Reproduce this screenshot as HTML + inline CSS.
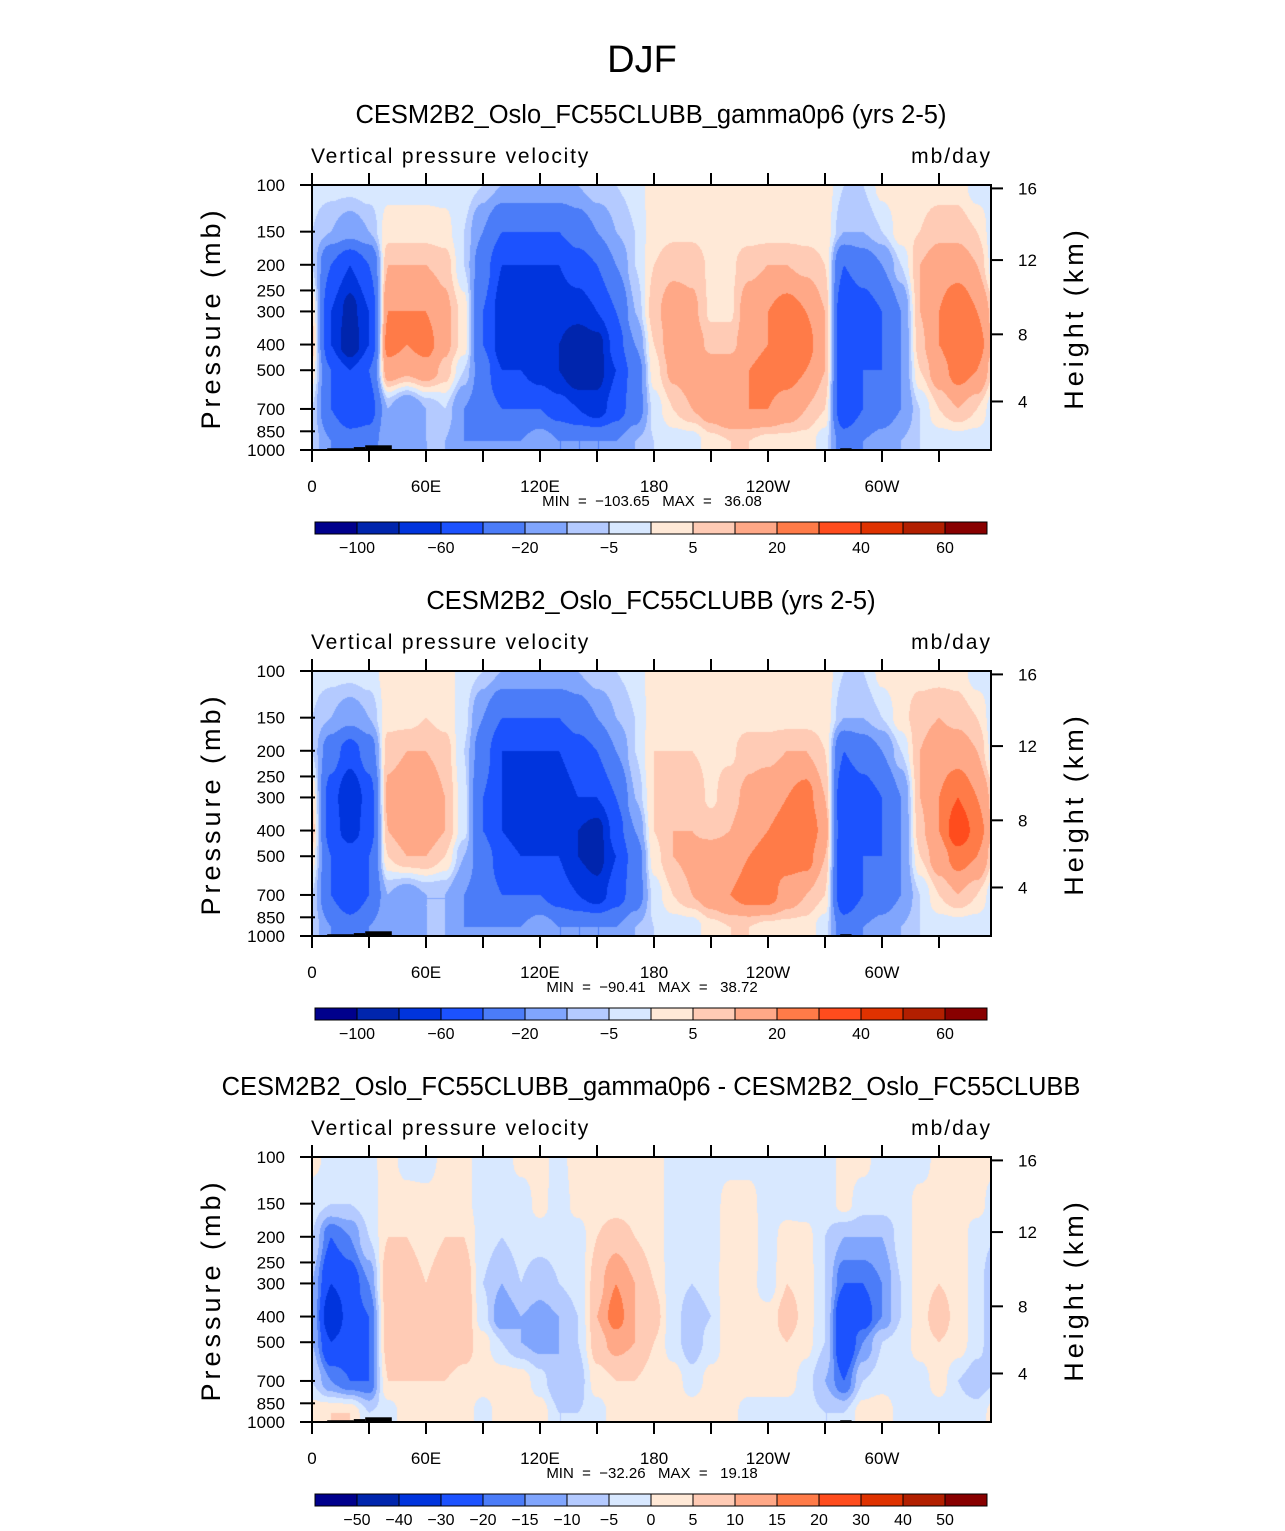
<!DOCTYPE html>
<html><head><meta charset="utf-8">
<style>
html,body{margin:0;padding:0;background:#fff;}
#wrap{position:relative;width:1285px;height:1531px;overflow:hidden;}
canvas{position:absolute;}
svg{position:absolute;left:0;top:0;}
text{font-family:"Liberation Sans",sans-serif;}
</style></head>
<body>
<div id="wrap">
<canvas id="c0"></canvas>
<canvas id="c1"></canvas>
<canvas id="c2"></canvas>
<svg id="svg" width="1285" height="1531"></svg>
</div>
<script>
// ---- data ----
const levelsP = [100,150,200,300,400,500,700,925];
const lons = [0,10,20,30,40,50,60,70,80,90,100,110,120,130,140,150,160,170,180,190,200,210,220,230,240,250,260,270,280,290,300,310,320,330,340,350];
const bounds1 = [-100,-80,-60,-40,-20,-10,-5,0,5,10,20,30,40,50,60];
const bounds3 = [-50,-40,-30,-20,-15,-10,-5,0,5,10,15,20,30,40,50];
const labels1 = ["\u2212100","\u221260","\u221220","\u22125","5","20","40","60"];
const labels3 = ["\u221250","\u221240","\u221230","\u221220","\u221215","\u221210","\u22125","0","5","10","15","20","30","40","50"];
const titles = ["CESM2B2_Oslo_FC55CLUBB_gamma0p6 (yrs 2-5)","CESM2B2_Oslo_FC55CLUBB (yrs 2-5)","CESM2B2_Oslo_FC55CLUBB_gamma0p6 - CESM2B2_Oslo_FC55CLUBB"];
const minmax = [["\u2212103.65","36.08"],["\u221290.41","38.72"],["\u221232.26","19.18"]];
const xTickLabels = ["0","60E","120E","180","120W","60W"];
const xTickLons = [0,60,120,180,240,300];
const pTicks = [100,150,200,250,300,400,500,700,850,1000];
const zTicks = [16,12,8,4];
const zTickP = [103,192,366,656];
const colors = ["#00008c","#0025ad","#0034dd","#1c52fe","#4b7cf8","#80a5fd","#b4caff","#d8e8ff","#ffe9d7","#ffcbb5","#ffa887","#ff7b48","#ff4c1d","#df3200","#b21f00","#880000"];
// topography (lon start, lon end, surface pressure)
const topo = [[8,22,985],[22,28,975],[28,42,960],[100,110,993],[112,200,995],[278,284,985],[284,310,994]];

const field1 = [
[-3,-5,-5,5,8,3,-5,-5],[-3,-10,-40,-60,-60,-40,-40,-20],[-3,-15,-60,-90,-100,-60,-60,-30],[-2,-10,-40,-60,-60,-40,-50,-30],
[-2,3,10,20,25,15,-10,-10],[-2,3,10,20,20,12,-20,-20],[-2,3,10,20,25,15,-10,-10],[-2,2,8,12,12,8,-5,-10],
[-2,-5,-5,3,3,-5,-20,-20],[-5,-20,-30,-40,-40,-30,-30,-20],[-10,-40,-60,-70,-70,-60,-40,-20],[-10,-40,-60,-80,-80,-60,-40,-20],
[-10,-40,-60,-80,-80,-70,-40,-10],[-10,-40,-60,-70,-80,-80,-50,-20],[-10,-30,-50,-70,-100,-100,-60,-20],[-5,-20,-40,-60,-90,-90,-70,-20],
[-5,-10,-20,-40,-50,-60,-50,-20],[-3,-5,-5,-10,-20,-30,-30,-10],[3,3,5,8,5,3,-3,-5],[3,4,8,15,15,12,5,-3],
[3,4,8,12,15,15,10,-3],[3,3,4,4,8,15,15,3],[3,3,4,4,8,15,20,5],[3,3,8,15,15,20,20,5],
[3,3,10,20,20,25,20,3],[3,3,10,25,30,25,15,3],[3,3,8,20,25,20,10,3],[3,3,5,10,10,10,5,-3],
[-5,-10,-40,-60,-60,-60,-60,-30],[-5,-10,-30,-50,-60,-40,-40,-20],[2,-5,-20,-40,-40,-40,-30,-15],[3,3,-5,-20,-20,-20,-20,-10],
[3,5,10,10,8,5,-5,-5],[3,8,15,20,20,15,5,-3],[3,8,15,30,30,25,10,-3],[-3,5,10,20,25,20,5,-3]];
const field2 = [
[-3,-5,-5,5,8,3,-5,-5],[-3,-10,-30,-50,-50,-40,-40,-20],[-3,-15,-50,-80,-70,-50,-60,-30],[-2,-10,-30,-50,-50,-40,-40,-20],
[2,3,8,12,10,5,-10,-10],[2,3,10,15,15,10,-15,-20],[2,5,10,15,15,10,-10,-10],[2,3,8,10,10,5,-10,-10],
[-2,-3,-5,-3,-3,-10,-20,-20],[-5,-20,-30,-40,-40,-30,-30,-20],[-10,-40,-60,-60,-60,-50,-40,-20],[-10,-40,-60,-70,-70,-60,-40,-20],
[-10,-40,-60,-70,-60,-60,-40,-10],[-10,-40,-60,-70,-70,-60,-50,-20],[-10,-30,-50,-60,-80,-80,-60,-20],[-5,-20,-40,-60,-90,-90,-70,-20],
[-5,-10,-20,-40,-50,-60,-50,-20],[-3,-5,-5,-10,-20,-30,-30,-10],[3,3,5,5,5,3,-3,-5],[3,4,5,8,10,10,5,-3],
[3,4,5,8,10,12,10,-3],[3,3,4,4,8,15,15,3],[3,3,4,8,10,15,20,5],[3,3,8,12,15,20,25,5],
[3,3,8,15,20,25,25,3],[3,3,10,20,25,25,15,3],[3,3,10,25,30,25,10,3],[3,3,5,10,15,10,5,-3],
[-5,-10,-40,-60,-60,-60,-60,-30],[-5,-10,-30,-50,-50,-40,-40,-20],[2,-5,-20,-40,-40,-40,-30,-15],[3,3,-5,-20,-20,-20,-20,-10],
[3,8,10,10,8,5,-5,-5],[3,10,15,20,20,15,5,-3],[3,8,15,30,40,25,10,-3],[-3,5,10,20,25,20,5,-3]];
const field3 = [
[2,-3,-5,-10,-10,-10,-5,3],[-2,-5,-20,-30,-40,-30,-15,5],[-2,-5,-15,-25,-25,-25,-20,5],[-2,-3,-5,-15,-20,-20,-20,-5],
[3,3,5,10,8,8,5,-3],[-3,3,5,8,10,8,5,3],[-3,2,3,5,8,8,5,3],[2,3,5,8,10,10,5,3],
[2,2,5,10,10,8,3,3],[-3,-3,-3,-5,-3,2,3,-3],[-3,-3,-5,-10,-15,-5,3,3],[2,-3,-3,-5,-10,-10,3,5],
[2,2,-3,-8,-12,-12,-3,3],[-2,-3,-3,-5,-10,-10,-10,-5],[3,2,-3,-3,-5,-5,-8,-5],[3,3,5,8,10,8,3,-3],
[3,3,8,15,18,12,5,3],[2,3,5,10,10,10,5,3],[2,3,3,5,8,5,3,3],[-2,-3,-3,-3,-3,-3,3,3],
[-2,-3,-3,-5,-8,-8,-3,3],[-2,-2,-3,-3,-5,-3,2,5],[-2,2,3,5,5,3,2,2],[-2,2,3,2,2,2,3,-3],
[-3,-3,-3,-3,2,3,3,-3],[-3,-3,3,5,8,5,3,-3],[-3,-3,2,3,3,2,-3,-3],[-3,-3,-5,-5,-5,-5,-10,-5],
[2,2,-10,-20,-30,-30,-20,-5],[2,-3,-10,-20,-25,-15,-5,3],[-3,-3,-10,-15,-15,-5,-3,5],[-3,-3,-3,-5,-5,-3,-3,-3],
[-3,2,2,3,3,3,-3,-3],[2,2,3,5,8,5,3,-3],[2,2,3,3,3,3,-5,-3],[2,2,-3,-3,-3,-3,-8,-3]];
const fields = [field1, field2, field3];
const boundsList = [bounds1, bounds1, bounds3];

// ---- geometry ----
const X0 = 312, X1 = 991, PX_DEG = 1.9, PANEL_DY = 486, TOP = 185, BOT = 450;
const xOf = lon => X0 + lon * PX_DEG;
const yOf = (p, off) => off + TOP + Math.log10(p / 100) * (BOT - TOP);
const NS = "http://www.w3.org/2000/svg";
const svg = document.getElementById('svg');
function mk(tag, attrs, name, txt) {
  const e = document.createElementNS(NS, tag);
  for (const k in attrs) e.setAttribute(k, attrs[k]);
  
  
  if (txt !== undefined) e.textContent = txt;
  svg.appendChild(e);
  return e;
}
function sample(field, lon, p) {
  const nl = lons.length;
  let li = Math.floor(lon / 10), lf = lon / 10 - li;
  const l0 = ((li % nl) + nl) % nl, l1 = (l0 + 1) % nl;
  const lp = Math.log(p);
  let k = 0;
  while (k < levelsP.length - 2 && lp > Math.log(levelsP[k + 1])) k++;
  let pf = (lp - Math.log(levelsP[k])) / (Math.log(levelsP[k + 1]) - Math.log(levelsP[k]));
  pf = Math.max(0, Math.min(1, pf));
  const s = t => t * t * (3 - 2 * t);
  const a = s(lf), b = s(pf);
  const v00 = field[l0][k], v10 = field[l1][k], v01 = field[l0][k + 1], v11 = field[l1][k + 1];
  return (v00 * (1 - a) + v10 * a) * (1 - b) + (v01 * (1 - a) + v11 * a) * b;
}
function hex(c){return [parseInt(c.slice(1,3),16),parseInt(c.slice(3,5),16),parseInt(c.slice(5,7),16)];}
const rgb = colors.map(hex);

for (let i = 0; i < 3; i++) {
  const off = i * PANEL_DY;
  const cv = document.getElementById('c' + i);
  const W = X1 - X0, H = BOT - TOP;
  cv.width = W; cv.height = H;
  cv.style.left = X0 + 'px'; cv.style.top = (off + TOP) + 'px';
  const ctx = cv.getContext('2d');
  const img = ctx.createImageData(W, H);
  const bnds = boundsList[i];
  for (let y = 0; y < H; y++) {
    const p = 100 * Math.pow(10, (y + 0.5) / H);
    for (let x = 0; x < W; x++) {
      const lon = (x + 0.5) / PX_DEG;
      const v = sample(fields[i], lon, p);
      let c = 0; while (c < bnds.length && v >= bnds[c]) c++;
      const q = (y * W + x) * 4, col = rgb[c];
      img.data[q] = col[0]; img.data[q + 1] = col[1]; img.data[q + 2] = col[2]; img.data[q + 3] = 255;
    }
  }
  ctx.putImageData(img, 0, 0);

  topo.forEach(t => {
    mk('rect', {x: xOf(t[0]), y: yOf(t[2], off), width: (t[1] - t[0]) * PX_DEG, height: yOf(1000, off) - yOf(t[2], off), fill: '#000'}, 'topography');
  });
  mk('text', {x: 651, y: off + 123, 'text-anchor': 'middle', 'font-size': 25.5}, 'panel-title', titles[i]);
  mk('text', {x: 311, y: off + 163, 'font-size': 21, 'letter-spacing': '1.8'}, 'variable-label', 'Vertical pressure velocity');
  mk('text', {x: 992, y: off + 163, 'font-size': 21, 'text-anchor': 'end', 'letter-spacing': '2'}, 'units-label', 'mb/day');
  mk('rect', {x: X0, y: off + TOP, width: X1 - X0, height: BOT - TOP, fill: 'none', stroke: '#000', 'stroke-width': 2}, 'plot-frame');
  for (let lon = 0; lon < 360; lon += 30) {
    const x = xOf(lon);
    mk('line', {x1: x, x2: x, y1: off + TOP, y2: off + TOP - 12, stroke: '#000', 'stroke-width': 2}, 'x-tick-top');
    mk('line', {x1: x, x2: x, y1: off + BOT, y2: off + BOT + 12, stroke: '#000', 'stroke-width': 2}, 'x-tick-bottom');
  }
  xTickLabels.forEach((l, j) => {
    mk('text', {x: xOf(xTickLons[j]), y: off + 492, 'text-anchor': 'middle', 'font-size': 17}, 'x-tick-label', l);
  });
  pTicks.forEach(p => {
    const y = yOf(p, off);
    mk('line', {x1: X0 - 12, x2: X0 + 3, y1: y, y2: y, stroke: '#000', 'stroke-width': 2}, 'y-tick');
    mk('text', {x: 285, y: y + 6, 'text-anchor': 'end', 'font-size': 17}, 'y-tick-label', String(p));
  });
  zTicks.forEach((z, j) => {
    const y = yOf(zTickP[j], off);
    mk('line', {x1: X1, x2: X1 + 12, y1: y, y2: y, stroke: '#000', 'stroke-width': 2}, 'height-tick');
    mk('text', {x: 1018, y: y + 6, 'font-size': 17}, 'height-tick-label', String(z));
  });
  mk('text', {x: 0, y: 0, transform: `translate(220,${off + 318}) rotate(-90)`, 'text-anchor': 'middle', 'font-size': 27, 'letter-spacing': '4'}, 'y-axis-title', 'Pressure (mb)');
  mk('text', {x: 0, y: 0, transform: `translate(1083,${off + 318}) rotate(-90)`, 'text-anchor': 'middle', 'font-size': 27, 'letter-spacing': '4'}, 'height-axis-title', 'Height (km)');
  const mm = mk('text', {x: 652, y: off + 506, 'text-anchor': 'middle', 'font-size': 15, 'xml:space': 'preserve', style: 'white-space:pre'}, 'min-max-label', `MIN  =  ${minmax[i][0]}   MAX  =   ${minmax[i][1]}`);
  const cbY = off + 522, cbX = 315, cbW = 42;
  colors.forEach((c, j) => {
    mk('rect', {x: cbX + j * cbW, y: cbY, width: cbW, height: 12, fill: c, stroke: '#000', 'stroke-width': 1}, 'colorbar-box');
  });
  if (i < 2) {
    labels1.forEach((l, j) => {
      mk('text', {x: cbX + (1 + 2 * j) * cbW, y: cbY + 31, 'text-anchor': 'middle', 'font-size': 16}, 'colorbar-label', l);
    });
  } else {
    labels3.forEach((l, j) => {
      mk('text', {x: cbX + (1 + j) * cbW, y: cbY + 31, 'text-anchor': 'middle', 'font-size': 16}, 'colorbar-label', l);
    });
  }
}
mk('text', {x: 642, y: 72, 'text-anchor': 'middle', 'font-size': 38, 'font-weight': 'normal'}, 'main-title', 'DJF');
</script>
</body></html>
